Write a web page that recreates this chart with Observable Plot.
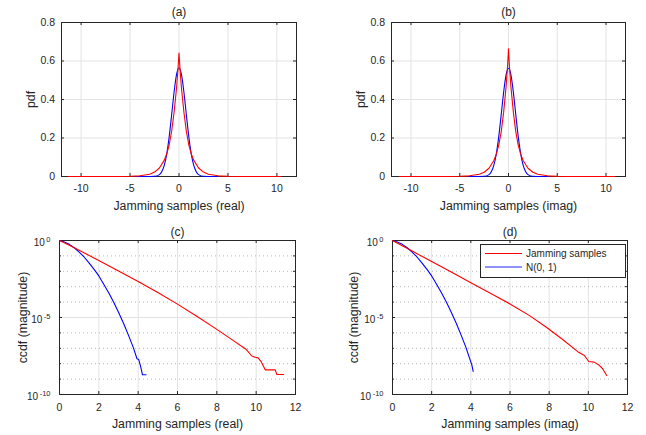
<!DOCTYPE html>
<html><head><meta charset="utf-8">
<script src="https://cdn.jsdelivr.net/npm/d3@7"></script>
<script src="https://cdn.jsdelivr.net/npm/@observablehq/plot@0.6"></script>
<style>
html,body{margin:0;padding:0;background:#fff;}
#wrap{position:relative;width:646px;height:435px;overflow:hidden;background:#fff;font-family:"Liberation Sans",Arial,Helvetica,sans-serif;color:#262626;}
.panel{position:absolute;}
#legend{position:absolute;left:480px;top:244px;}
</style></head>
<body><div id="wrap"></div>
<script>
// ---------- tick values ----------
const pdfTicksX = [-10, -5, 0, 5, 10];
const pdfTicksY = [0, 0.2, 0.4, 0.6, 0.8];
const ccdfTicksX = [0, 2, 4, 6, 8, 10, 12];
const ccdfTicksY = [1e-10, 1e-5, 1];
const ccdfMinorY = [1e-9, 1e-8, 1e-7, 1e-6, 1e-4, 1e-3, 1e-2, 1e-1];
const ccdfTickLabels = {"1e-10": "10^-10", "0.00001": "10^-5", "1": "10^0"};

// ---------- (a) pdf, real part ----------
const aRedX = [-11.3, -8, -6, -5, -4, -3, -2.5, -2, -1.5, -1.25, -1, -0.75, -0.5, -0.25, -0.1, 0, 0.1, 0.25, 0.5, 0.75, 1, 1.25, 1.5, 2, 2.5, 3, 4, 5, 6, 8, 10.4];
const aRedY = [0, 0, 0.0003, 0.001, 0.0035, 0.012, 0.023, 0.044, 0.085, 0.118, 0.165, 0.235, 0.335, 0.46, 0.56, 0.641, 0.56, 0.46, 0.335, 0.235, 0.165, 0.118, 0.085, 0.044, 0.023, 0.012, 0.0035, 0.001, 0.0003, 0, 0];
const aBlueX = [-4.6, -3.5, -3, -2.5, -2, -1.75, -1.5, -1.25, -1, -0.75, -0.5, -0.25, 0, 0.25, 0.5, 0.75, 1, 1.25, 1.5, 1.75, 2, 2.5, 3, 4.0];
const aBlueY = [0, 0, 0.0001, 0.001, 0.010, 0.026, 0.059, 0.118, 0.208, 0.321, 0.439, 0.530, 0.565, 0.530, 0.439, 0.321, 0.208, 0.118, 0.059, 0.026, 0.010, 0.001, 0.0001, 0];

// ---------- (b) pdf, imaginary part ----------
const bRedX = [-11.2, -8, -6, -5, -4, -3, -2.5, -2, -1.5, -1.25, -1, -0.75, -0.5, -0.25, -0.1, 0, 0.1, 0.25, 0.5, 0.75, 1, 1.25, 1.5, 2, 2.5, 3, 4, 5, 6, 8, 10.9];
const bRedY = [0, 0, 0.0003, 0.001, 0.0035, 0.012, 0.022, 0.043, 0.083, 0.116, 0.163, 0.232, 0.333, 0.465, 0.57, 0.663, 0.57, 0.465, 0.333, 0.232, 0.163, 0.116, 0.083, 0.043, 0.022, 0.012, 0.0035, 0.001, 0.0003, 0, 0];
const bBlueX = [-4.2, -3.5, -3, -2.5, -2, -1.75, -1.5, -1.25, -1, -0.75, -0.5, -0.25, 0, 0.25, 0.5, 0.75, 1, 1.25, 1.5, 1.75, 2, 2.5, 3, 4.1];
const bBlueY = [0, 0, 0.0001, 0.001, 0.010, 0.026, 0.059, 0.118, 0.207, 0.320, 0.437, 0.528, 0.562, 0.528, 0.437, 0.320, 0.207, 0.118, 0.059, 0.026, 0.010, 0.001, 0.0001, 0];

// ---------- (c) ccdf, real part ----------
const cRedX = [0, 0.5, 1, 2, 3, 4, 5, 6, 7, 8, 8.84, 9.5, 9.78, 9.95, 10.1, 10.25, 10.46, 10.97, 11.05, 11.4];
const cRedY = [1, 0.49, 0.234, 0.0501, 0.0105, 2.19e-3, 4.17e-4, 7.41e-5, 1.17e-5, 1.70e-6, 3.16e-7, 8.32e-8, 3.16e-8, 2.63e-8, 2.4e-8, 1.38e-8, 3.98e-9, 3.98e-9, 2.0e-9, 2.0e-9];
const cBlueX = [0, 0.25, 0.5, 0.75, 1, 1.25, 1.5, 1.75, 2, 2.25, 2.5, 2.75, 3, 3.25, 3.5, 3.75, 3.94, 4.03, 4.13, 4.22, 4.4];
const cBlueY = [1, 0.794, 0.562, 0.339, 0.178, 0.0851, 0.0355, 0.0138, 5.0e-3, 1.45e-3, 4.07e-4, 1.02e-4, 2.19e-5, 4.37e-6, 7.41e-7, 1.15e-7, 2.09e-8, 1.86e-8, 6.3e-9, 1.9e-9, 1.9e-9];

// ---------- (d) ccdf, imaginary part ----------
const dRedX = [0, 0.5, 1, 2, 3, 4, 5, 6, 7, 7.84, 8.69, 9.46, 9.8, 10.02, 10.3, 10.56, 10.73, 10.94];
const dRedY = [1, 0.46, 0.209, 0.0427, 8.91e-3, 1.78e-3, 3.8e-4, 7.59e-5, 1.32e-5, 2.4e-6, 3.72e-7, 6.03e-8, 3.39e-8, 1.38e-8, 1.26e-8, 7.9e-9, 4.7e-9, 1.7e-9];
const dBlueX = [0, 0.25, 0.5, 0.75, 1, 1.25, 1.5, 1.75, 2, 2.25, 2.5, 2.75, 3, 3.25, 3.5, 3.75, 3.95, 4.05, 4.12];
const dBlueY = [1, 0.794, 0.562, 0.339, 0.178, 0.0851, 0.0355, 0.0138, 5.0e-3, 1.45e-3, 4.07e-4, 1.02e-4, 2.19e-5, 4.37e-6, 7.41e-7, 1.15e-7, 2.0e-8, 8.3e-9, 3.2e-9];

const legendLabels = ["Jamming samples", "N(0, 1)"];

// ---------- styles ----------
const AXIS = "#262626", GRID = "#e3e3e3", MINOR = "#b8b8b8";
const RED = "#ff0000", BLUE = "#0000ff";
const FONT = '"Liberation Sans", Arial, Helvetica, sans-serif';

function pts(xs, ys) { return xs.map((x, i) => ({x, y: ys[i]})); }

function panel(cfg) {
  const {width: W, height: H, m} = cfg;
  const iw = W - m.left - m.right, ih = H - m.top - m.bottom;
  const T = 3, t = 2;
  const log = cfg.yType === "log";
  const marks = [
    Plot.ruleX(cfg.xTicks, {x: d => d, stroke: GRID}),
    log ? Plot.ruleY(cfg.minorY, {y: d => d, stroke: MINOR, strokeDasharray: "1,3"}) : null,
    Plot.ruleY(cfg.yTicks, {y: d => d, stroke: GRID}),
    Plot.frame({stroke: AXIS, strokeWidth: 1}),
    Plot.tickX(cfg.xTicks, {x: d => d, stroke: AXIS, insetTop: ih - T}),
    Plot.tickX(cfg.xTicks, {x: d => d, stroke: AXIS, insetBottom: ih - T}),
    Plot.tickY(cfg.yTicks, {y: d => d, stroke: AXIS, insetRight: iw - T}),
    Plot.tickY(cfg.yTicks, {y: d => d, stroke: AXIS, insetLeft: iw - T}),
    log ? Plot.tickY(cfg.minorY, {y: d => d, stroke: AXIS, insetRight: iw - t}) : null,
    log ? Plot.tickY(cfg.minorY, {y: d => d, stroke: AXIS, insetLeft: iw - t}) : null,
    Plot.line(pts(cfg.blueX, cfg.blueY), {x: "x", y: "y", stroke: BLUE, strokeWidth: 1.1, curve: log ? "linear" : "monotone-x"}),
    Plot.line(pts(cfg.redX, cfg.redY), {x: "x", y: "y", stroke: RED, strokeWidth: 1.1}),
    Plot.axisX(cfg.xTicks, {tickSize: 0, tickPadding: cfg.xPad, fontSize: 10.5, tickFormat: d => String(d), label: null}),
    Plot.axisY(cfg.yTicks, {tickSize: 0, tickPadding: cfg.yPad, fontSize: log ? 10 : 10.5, dy: log ? 2 : 0,
      tickFormat: log ? (d => ccdfTickLabels[String(d)]) : (d => String(d)), label: null}),
    Plot.text([cfg.title], {text: d => d, frameAnchor: "top", lineAnchor: "middle", textAnchor: "middle", dy: cfg.titleDy, fontSize: 12}),
    Plot.text([cfg.xLabel], {text: d => d, frameAnchor: "bottom", lineAnchor: "middle", textAnchor: "middle", dy: 30, fontSize: 12.3}),
    Plot.text([cfg.yLabel], {text: d => d, frameAnchor: "left", lineAnchor: "middle", textAnchor: "middle", dx: cfg.yLabelDx, rotate: -90, fontSize: 12.3})
  ];
  const svg = Plot.plot({
    width: W, height: H,
    marginTop: m.top, marginRight: m.right, marginBottom: m.bottom, marginLeft: m.left,
    style: {fontFamily: FONT, color: AXIS, background: "transparent", overflow: "visible"},
    x: {domain: cfg.xDomain},
    y: log ? {type: "log", domain: cfg.yDomain} : {domain: cfg.yDomain},
    marks: marks.filter(Boolean)
  });
  if (log) {
    const ns = "http://www.w3.org/2000/svg";
    svg.querySelectorAll('g[aria-label="y-axis tick label"] text').forEach(tx => {
      const parts = tx.textContent.split("^");
      tx.textContent = "";
      const t1 = document.createElementNS(ns, "tspan"); t1.textContent = parts[0];
      const t2 = document.createElementNS(ns, "tspan"); t2.textContent = parts[1];
      t2.setAttribute("dy", "-4"); t2.setAttribute("dx", "1.5"); t2.setAttribute("font-size", "7.5");
      tx.append(t1, t2);
    });
  }
  const div = document.createElement("div");
  div.className = "panel";
  div.style.left = cfg.left + "px"; div.style.top = cfg.top + "px";
  div.appendChild(svg);
  return div;
}

const wrap = document.getElementById("wrap");
wrap.appendChild(panel({left: 0, top: 0, width: 323, height: 215, m: {top: 22, right: 27, bottom: 39, left: 61},
  xDomain: [-12, 12], yDomain: [0, 0.8], xTicks: pdfTicksX, yTicks: pdfTicksY, xPad: 8, yPad: 6.5,
  redX: aRedX, redY: aRedY, blueX: aBlueX, blueY: aBlueY,
  title: "(a)", titleDy: -10, xLabel: "Jamming samples (real)", yLabel: "pdf", yLabelDx: -30.5}));
wrap.appendChild(panel({left: 323, top: 0, width: 323, height: 215, m: {top: 22, right: 21, bottom: 39, left: 68},
  xDomain: [-12, 12], yDomain: [0, 0.8], xTicks: pdfTicksX, yTicks: pdfTicksY, xPad: 8, yPad: 6.5,
  redX: bRedX, redY: bRedY, blueX: bBlueX, blueY: bBlueY,
  title: "(b)", titleDy: -10, xLabel: "Jamming samples (imag)", yLabel: "pdf", yLabelDx: -30.5}));
wrap.appendChild(panel({left: 0, top: 215, width: 323, height: 220, m: {top: 25, right: 28, bottom: 41, left: 59},
  yType: "log", xDomain: [0, 12], yDomain: [1e-10, 1], xTicks: ccdfTicksX, yTicks: ccdfTicksY, minorY: ccdfMinorY, xPad: 9.5, yPad: 9,
  redX: cRedX, redY: cRedY, blueX: cBlueX, blueY: cBlueY,
  title: "(c)", titleDy: -8.5, xLabel: "Jamming samples (real)", yLabel: "ccdf (magnitude)", yLabelDx: -36}));
wrap.appendChild(panel({left: 323, top: 215, width: 323, height: 220, m: {top: 25, right: 19, bottom: 41, left: 69},
  yType: "log", xDomain: [0, 12], yDomain: [1e-10, 1], xTicks: ccdfTicksX, yTicks: ccdfTicksY, minorY: ccdfMinorY, xPad: 9.5, yPad: 9,
  redX: dRedX, redY: dRedY, blueX: dBlueX, blueY: dBlueY,
  title: "(d)", titleDy: -8.5, xLabel: "Jamming samples (imag)", yLabel: "ccdf (magnitude)", yLabelDx: -38.5}));

// legend for panel (d)
const ns = "http://www.w3.org/2000/svg";
const lg = document.createElementNS(ns, "svg");
lg.setAttribute("id", "legend"); lg.setAttribute("width", "146"); lg.setAttribute("height", "34");
lg.style.fontFamily = FONT;
lg.innerHTML =
  `<rect x="0.5" y="0.5" width="145" height="33" fill="#fff" stroke="${AXIS}" stroke-width="1"/>` +
  `<line x1="5" x2="42" y1="9.5" y2="9.5" stroke="${RED}" stroke-width="1.1"/>` +
  `<line x1="5" x2="42" y1="23" y2="23" stroke="#6b6bff" stroke-width="1.6"/>` +
  `<text x="46" y="13" font-size="10" fill="${AXIS}">${legendLabels[0]}</text>` +
  `<text x="46" y="26.5" font-size="10" fill="${AXIS}">${legendLabels[1]}</text>`;
wrap.appendChild(lg);
</script></body></html>
